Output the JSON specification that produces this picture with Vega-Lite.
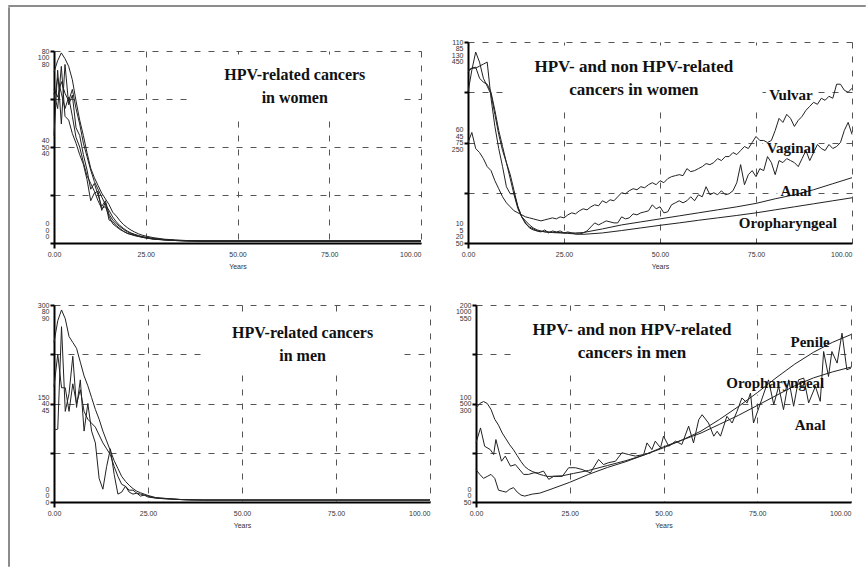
{
  "$schema": "https://vega.github.io/schema/vega-lite/v6.json",
  "background": "white",
  "padding": {"left": 8, "top": 5, "right": 0, "bottom": 0},
  "config": {
    "view": {"stroke": null},
    "axis": {
      "domainColor": "#000", "domainWidth": 2,
      "tickColor": "#000", "tickWidth": 2, "tickSize": 4,
      "gridColor": "#555", "gridDash": [6, 8], "gridWidth": 1,
      "labelFont": "Liberation Sans", "labelFontSize": 7, "labelColor": "#333",
      "titleFont": "Liberation Sans", "titleFontSize": 7, "titleFontWeight": "normal", "titleColor": "#333",
      "labelOverlap": false, "labelBound": false, "labelFlush": false
    }
  },
  "datasets": {
    "tl": [
      {"s":"a","year":0,"value":0.89},{"s":"a","year":1,"value":0.95},{"s":"a","year":2,"value":0.99},{"s":"a","year":3,"value":0.96},{"s":"a","year":4,"value":0.92},{"s":"a","year":5,"value":0.85},{"s":"a","year":6,"value":0.74},{"s":"a","year":7,"value":0.64},{"s":"a","year":8,"value":0.56},{"s":"a","year":9,"value":0.47},{"s":"a","year":10,"value":0.39},{"s":"a","year":11,"value":0.34},{"s":"a","year":12,"value":0.30},{"s":"a","year":13,"value":0.26},{"s":"a","year":14,"value":0.23},{"s":"a","year":15,"value":0.20},{"s":"a","year":16,"value":0.16},{"s":"a","year":17,"value":0.14},{"s":"a","year":18,"value":0.115},{"s":"a","year":19,"value":0.095},{"s":"a","year":20,"value":0.08},{"s":"a","year":21,"value":0.067},{"s":"a","year":22,"value":0.057},{"s":"a","year":23,"value":0.048},{"s":"a","year":24,"value":0.041},{"s":"a","year":25,"value":0.036},{"s":"a","year":27,"value":0.028},{"s":"a","year":30,"value":0.02},{"s":"a","year":33,"value":0.016},{"s":"a","year":36,"value":0.013},{"s":"a","year":40,"value":0.011},{"s":"a","year":100,"value":0.011},
      {"s":"b","year":0,"value":0.80},{"s":"b","year":1,"value":0.76},{"s":"b","year":2,"value":0.84},{"s":"b","year":3,"value":0.78},{"s":"b","year":4,"value":0.74},{"s":"b","year":5,"value":0.80},{"s":"b","year":6,"value":0.70},{"s":"b","year":7,"value":0.62},{"s":"b","year":8,"value":0.52},{"s":"b","year":9,"value":0.45},{"s":"b","year":10,"value":0.38},{"s":"b","year":11,"value":0.32},{"s":"b","year":12,"value":0.28},{"s":"b","year":13,"value":0.24},{"s":"b","year":14,"value":0.20},{"s":"b","year":15,"value":0.17},{"s":"b","year":16,"value":0.135},{"s":"b","year":17,"value":0.11},{"s":"b","year":18,"value":0.09},{"s":"b","year":19,"value":0.075},{"s":"b","year":20,"value":0.062},{"s":"b","year":21,"value":0.052},{"s":"b","year":22,"value":0.045},{"s":"b","year":23,"value":0.039},{"s":"b","year":24,"value":0.034},{"s":"b","year":25,"value":0.03},{"s":"b","year":27,"value":0.024},{"s":"b","year":30,"value":0.018},{"s":"b","year":33,"value":0.014},{"s":"b","year":36,"value":0.012},{"s":"b","year":40,"value":0.01},{"s":"b","year":100,"value":0.01},
      {"s":"c","year":0,"value":0.56},{"s":"c","year":1,"value":0.90},{"s":"c","year":2,"value":0.62},{"s":"c","year":3,"value":0.93},{"s":"c","year":4,"value":0.72},{"s":"c","year":5,"value":0.77},{"s":"c","year":6,"value":0.60},{"s":"c","year":7,"value":0.56},{"s":"c","year":8,"value":0.46},{"s":"c","year":9,"value":0.38},{"s":"c","year":10,"value":0.28},{"s":"c","year":11,"value":0.31},{"s":"c","year":12,"value":0.25},{"s":"c","year":13,"value":0.19},{"s":"c","year":14,"value":0.22},{"s":"c","year":15,"value":0.15},{"s":"c","year":16,"value":0.12},{"s":"c","year":17,"value":0.10},{"s":"c","year":18,"value":0.085},{"s":"c","year":19,"value":0.07},{"s":"c","year":20,"value":0.058},{"s":"c","year":21,"value":0.05},{"s":"c","year":22,"value":0.043},{"s":"c","year":23,"value":0.036},{"s":"c","year":24,"value":0.032},{"s":"c","year":25,"value":0.028},{"s":"c","year":27,"value":0.022},{"s":"c","year":30,"value":0.017},{"s":"c","year":33,"value":0.013},{"s":"c","year":36,"value":0.011},{"s":"c","year":40,"value":0.01},{"s":"c","year":100,"value":0.01},
      {"s":"d","year":0,"value":0.78},{"s":"d","year":1,"value":0.70},{"s":"d","year":2,"value":0.92},{"s":"d","year":3,"value":0.66},{"s":"d","year":4,"value":0.64},{"s":"d","year":5,"value":0.57},{"s":"d","year":6,"value":0.52},{"s":"d","year":7,"value":0.46},{"s":"d","year":8,"value":0.41},{"s":"d","year":9,"value":0.33},{"s":"d","year":10,"value":0.22},{"s":"d","year":11,"value":0.26},{"s":"d","year":12,"value":0.27},{"s":"d","year":13,"value":0.17},{"s":"d","year":14,"value":0.21},{"s":"d","year":15,"value":0.12},{"s":"d","year":16,"value":0.11},{"s":"d","year":17,"value":0.09},{"s":"d","year":18,"value":0.075},{"s":"d","year":19,"value":0.06},{"s":"d","year":20,"value":0.05},{"s":"d","year":21,"value":0.045},{"s":"d","year":22,"value":0.04},{"s":"d","year":23,"value":0.035},{"s":"d","year":24,"value":0.03},{"s":"d","year":25,"value":0.027},{"s":"d","year":27,"value":0.021},{"s":"d","year":30,"value":0.016},{"s":"d","year":33,"value":0.013},{"s":"d","year":36,"value":0.011},{"s":"d","year":40,"value":0.01},{"s":"d","year":100,"value":0.01},
      {"s":"e","year":0,"value":0.74},{"s":"e","year":1,"value":0.86},{"s":"e","year":2,"value":0.78},{"s":"e","year":3,"value":0.70},{"s":"e","year":4,"value":0.76},{"s":"e","year":5,"value":0.66},{"s":"e","year":6,"value":0.55},{"s":"e","year":7,"value":0.50},{"s":"e","year":8,"value":0.42},{"s":"e","year":9,"value":0.35},{"s":"e","year":10,"value":0.31},{"s":"e","year":11,"value":0.27},{"s":"e","year":12,"value":0.22},{"s":"e","year":13,"value":0.18},{"s":"e","year":14,"value":0.19},{"s":"e","year":15,"value":0.14},{"s":"e","year":16,"value":0.10},{"s":"e","year":17,"value":0.085},{"s":"e","year":18,"value":0.07},{"s":"e","year":19,"value":0.06},{"s":"e","year":20,"value":0.05},{"s":"e","year":21,"value":0.044},{"s":"e","year":22,"value":0.038},{"s":"e","year":23,"value":0.034},{"s":"e","year":24,"value":0.03},{"s":"e","year":25,"value":0.026},{"s":"e","year":27,"value":0.02},{"s":"e","year":30,"value":0.016},{"s":"e","year":33,"value":0.013},{"s":"e","year":36,"value":0.011},{"s":"e","year":40,"value":0.01},{"s":"e","year":100,"value":0.01}
    ],
    "tlNote": [{"year": 65.6, "value": 0.815, "t": "HPV-related cancers\nin women"}],
    "tr": [
      {"s":"vulvar","year":0,"value":0.50},{"s":"vulvar","year":1,"value":0.55},{"s":"vulvar","year":2,"value":0.47},{"s":"vulvar","year":3,"value":0.45},{"s":"vulvar","year":4,"value":0.42},{"s":"vulvar","year":5,"value":0.38},{"s":"vulvar","year":6,"value":0.36},{"s":"vulvar","year":7,"value":0.31},{"s":"vulvar","year":8,"value":0.27},{"s":"vulvar","year":9,"value":0.23},{"s":"vulvar","year":10,"value":0.20},{"s":"vulvar","year":11,"value":0.18},{"s":"vulvar","year":12,"value":0.16},{"s":"vulvar","year":13,"value":0.15},{"s":"vulvar","year":14,"value":0.14},{"s":"vulvar","year":15,"value":0.13},{"s":"vulvar","year":16,"value":0.125},{"s":"vulvar","year":17,"value":0.12},{"s":"vulvar","year":18,"value":0.115},{"s":"vulvar","year":19,"value":0.11},{"s":"vulvar","year":20,"value":0.115},{"s":"vulvar","year":21,"value":0.12},{"s":"vulvar","year":22,"value":0.125},{"s":"vulvar","year":23,"value":0.12},{"s":"vulvar","year":24,"value":0.13},{"s":"vulvar","year":25,"value":0.125},{"s":"vulvar","year":26,"value":0.14},{"s":"vulvar","year":27,"value":0.15},{"s":"vulvar","year":28,"value":0.145},{"s":"vulvar","year":29,"value":0.16},{"s":"vulvar","year":30,"value":0.17},{"s":"vulvar","year":31,"value":0.165},{"s":"vulvar","year":32,"value":0.18},{"s":"vulvar","year":33,"value":0.19},{"s":"vulvar","year":34,"value":0.185},{"s":"vulvar","year":35,"value":0.21},{"s":"vulvar","year":36,"value":0.20},{"s":"vulvar","year":37,"value":0.215},{"s":"vulvar","year":38,"value":0.21},{"s":"vulvar","year":39,"value":0.23},{"s":"vulvar","year":40,"value":0.25},{"s":"vulvar","year":41,"value":0.245},{"s":"vulvar","year":42,"value":0.26},{"s":"vulvar","year":43,"value":0.27},{"s":"vulvar","year":44,"value":0.265},{"s":"vulvar","year":45,"value":0.28},{"s":"vulvar","year":46,"value":0.275},{"s":"vulvar","year":47,"value":0.29},{"s":"vulvar","year":48,"value":0.30},{"s":"vulvar","year":49,"value":0.29},{"s":"vulvar","year":50,"value":0.31},{"s":"vulvar","year":51,"value":0.30},{"s":"vulvar","year":52,"value":0.32},{"s":"vulvar","year":53,"value":0.33},{"s":"vulvar","year":54,"value":0.335},{"s":"vulvar","year":55,"value":0.34},{"s":"vulvar","year":56,"value":0.335},{"s":"vulvar","year":57,"value":0.37},{"s":"vulvar","year":58,"value":0.355},{"s":"vulvar","year":59,"value":0.36},{"s":"vulvar","year":60,"value":0.37},{"s":"vulvar","year":61,"value":0.38},{"s":"vulvar","year":62,"value":0.395},{"s":"vulvar","year":63,"value":0.39},{"s":"vulvar","year":64,"value":0.40},{"s":"vulvar","year":65,"value":0.42},{"s":"vulvar","year":66,"value":0.41},{"s":"vulvar","year":67,"value":0.43},{"s":"vulvar","year":68,"value":0.43},{"s":"vulvar","year":69,"value":0.45},{"s":"vulvar","year":70,"value":0.44},{"s":"vulvar","year":71,"value":0.46},{"s":"vulvar","year":72,"value":0.48},{"s":"vulvar","year":73,"value":0.47},{"s":"vulvar","year":74,"value":0.50},{"s":"vulvar","year":75,"value":0.53},{"s":"vulvar","year":76,"value":0.51},{"s":"vulvar","year":77,"value":0.51},{"s":"vulvar","year":78,"value":0.50},{"s":"vulvar","year":79,"value":0.51},{"s":"vulvar","year":80,"value":0.56},{"s":"vulvar","year":81,"value":0.62},{"s":"vulvar","year":82,"value":0.60},{"s":"vulvar","year":83,"value":0.64},{"s":"vulvar","year":84,"value":0.62},{"s":"vulvar","year":85,"value":0.58},{"s":"vulvar","year":86,"value":0.61},{"s":"vulvar","year":87,"value":0.63},{"s":"vulvar","year":88,"value":0.66},{"s":"vulvar","year":89,"value":0.68},{"s":"vulvar","year":90,"value":0.70},{"s":"vulvar","year":91,"value":0.69},{"s":"vulvar","year":92,"value":0.72},{"s":"vulvar","year":93,"value":0.71},{"s":"vulvar","year":94,"value":0.73},{"s":"vulvar","year":95,"value":0.72},{"s":"vulvar","year":96,"value":0.79},{"s":"vulvar","year":97,"value":0.79},{"s":"vulvar","year":98,"value":0.76},{"s":"vulvar","year":99,"value":0.75},{"s":"vulvar","year":100,"value":0.77},
      {"s":"vaginal","year":0,"value":0.75},{"s":"vaginal","year":1,"value":0.86},{"s":"vaginal","year":2,"value":0.95},{"s":"vaginal","year":3,"value":0.90},{"s":"vaginal","year":4,"value":0.82},{"s":"vaginal","year":5,"value":0.78},{"s":"vaginal","year":6,"value":0.74},{"s":"vaginal","year":7,"value":0.64},{"s":"vaginal","year":8,"value":0.54},{"s":"vaginal","year":9,"value":0.46},{"s":"vaginal","year":10,"value":0.40},{"s":"vaginal","year":11,"value":0.34},{"s":"vaginal","year":12,"value":0.26},{"s":"vaginal","year":13,"value":0.18},{"s":"vaginal","year":14,"value":0.13},{"s":"vaginal","year":15,"value":0.095},{"s":"vaginal","year":16,"value":0.08},{"s":"vaginal","year":17,"value":0.07},{"s":"vaginal","year":18,"value":0.06},{"s":"vaginal","year":19,"value":0.055},{"s":"vaginal","year":20,"value":0.065},{"s":"vaginal","year":21,"value":0.05},{"s":"vaginal","year":22,"value":0.06},{"s":"vaginal","year":23,"value":0.055},{"s":"vaginal","year":24,"value":0.06},{"s":"vaginal","year":25,"value":0.05},{"s":"vaginal","year":26,"value":0.055},{"s":"vaginal","year":27,"value":0.05},{"s":"vaginal","year":28,"value":0.045},{"s":"vaginal","year":29,"value":0.045},{"s":"vaginal","year":30,"value":0.05},{"s":"vaginal","year":31,"value":0.06},{"s":"vaginal","year":32,"value":0.08},{"s":"vaginal","year":33,"value":0.10},{"s":"vaginal","year":34,"value":0.09},{"s":"vaginal","year":35,"value":0.10},{"s":"vaginal","year":36,"value":0.11},{"s":"vaginal","year":37,"value":0.105},{"s":"vaginal","year":38,"value":0.10},{"s":"vaginal","year":39,"value":0.10},{"s":"vaginal","year":40,"value":0.13},{"s":"vaginal","year":41,"value":0.12},{"s":"vaginal","year":42,"value":0.125},{"s":"vaginal","year":43,"value":0.145},{"s":"vaginal","year":44,"value":0.14},{"s":"vaginal","year":45,"value":0.15},{"s":"vaginal","year":46,"value":0.155},{"s":"vaginal","year":47,"value":0.16},{"s":"vaginal","year":48,"value":0.19},{"s":"vaginal","year":49,"value":0.17},{"s":"vaginal","year":50,"value":0.18},{"s":"vaginal","year":51,"value":0.15},{"s":"vaginal","year":52,"value":0.155},{"s":"vaginal","year":53,"value":0.19},{"s":"vaginal","year":54,"value":0.20},{"s":"vaginal","year":55,"value":0.21},{"s":"vaginal","year":56,"value":0.20},{"s":"vaginal","year":57,"value":0.21},{"s":"vaginal","year":58,"value":0.23},{"s":"vaginal","year":59,"value":0.21},{"s":"vaginal","year":60,"value":0.24},{"s":"vaginal","year":61,"value":0.23},{"s":"vaginal","year":62,"value":0.28},{"s":"vaginal","year":63,"value":0.24},{"s":"vaginal","year":64,"value":0.25},{"s":"vaginal","year":65,"value":0.24},{"s":"vaginal","year":66,"value":0.26},{"s":"vaginal","year":67,"value":0.24},{"s":"vaginal","year":68,"value":0.245},{"s":"vaginal","year":69,"value":0.26},{"s":"vaginal","year":70,"value":0.30},{"s":"vaginal","year":71,"value":0.39},{"s":"vaginal","year":72,"value":0.29},{"s":"vaginal","year":73,"value":0.34},{"s":"vaginal","year":74,"value":0.36},{"s":"vaginal","year":75,"value":0.33},{"s":"vaginal","year":76,"value":0.37},{"s":"vaginal","year":77,"value":0.36},{"s":"vaginal","year":78,"value":0.43},{"s":"vaginal","year":79,"value":0.40},{"s":"vaginal","year":80,"value":0.34},{"s":"vaginal","year":81,"value":0.41},{"s":"vaginal","year":82,"value":0.40},{"s":"vaginal","year":83,"value":0.42},{"s":"vaginal","year":84,"value":0.41},{"s":"vaginal","year":85,"value":0.40},{"s":"vaginal","year":86,"value":0.38},{"s":"vaginal","year":87,"value":0.42},{"s":"vaginal","year":88,"value":0.46},{"s":"vaginal","year":89,"value":0.41},{"s":"vaginal","year":90,"value":0.45},{"s":"vaginal","year":91,"value":0.49},{"s":"vaginal","year":92,"value":0.47},{"s":"vaginal","year":93,"value":0.46},{"s":"vaginal","year":94,"value":0.49},{"s":"vaginal","year":95,"value":0.47},{"s":"vaginal","year":96,"value":0.48},{"s":"vaginal","year":97,"value":0.50},{"s":"vaginal","year":98,"value":0.56},{"s":"vaginal","year":99,"value":0.60},{"s":"vaginal","year":100,"value":0.54},
      {"s":"anal","year":0,"value":0.86},{"s":"anal","year":1,"value":0.87},{"s":"anal","year":2,"value":0.87},{"s":"anal","year":3,"value":0.88},{"s":"anal","year":4,"value":0.89},{"s":"anal","year":5,"value":0.90},{"s":"anal","year":6,"value":0.72},{"s":"anal","year":7,"value":0.58},{"s":"anal","year":8,"value":0.47},{"s":"anal","year":9,"value":0.38},{"s":"anal","year":10,"value":0.28},{"s":"anal","year":11,"value":0.245},{"s":"anal","year":12,"value":0.245},{"s":"anal","year":13,"value":0.18},{"s":"anal","year":14,"value":0.13},{"s":"anal","year":15,"value":0.10},{"s":"anal","year":16,"value":0.075},{"s":"anal","year":17,"value":0.065},{"s":"anal","year":18,"value":0.06},{"s":"anal","year":19,"value":0.058},{"s":"anal","year":20,"value":0.056},{"s":"anal","year":22,"value":0.054},{"s":"anal","year":24,"value":0.052},{"s":"anal","year":26,"value":0.05},{"s":"anal","year":28,"value":0.05},{"s":"anal","year":30,"value":0.052},{"s":"anal","year":35,"value":0.07},{"s":"anal","year":40,"value":0.09},{"s":"anal","year":45,"value":0.105},{"s":"anal","year":50,"value":0.12},{"s":"anal","year":55,"value":0.135},{"s":"anal","year":60,"value":0.15},{"s":"anal","year":65,"value":0.165},{"s":"anal","year":70,"value":0.18},{"s":"anal","year":75,"value":0.197},{"s":"anal","year":80,"value":0.22},{"s":"anal","year":85,"value":0.24},{"s":"anal","year":90,"value":0.265},{"s":"anal","year":95,"value":0.295},{"s":"anal","year":100,"value":0.325},
      {"s":"oro","year":0,"value":0.85},{"s":"oro","year":1,"value":0.87},{"s":"oro","year":2,"value":0.875},{"s":"oro","year":3,"value":0.82},{"s":"oro","year":4,"value":0.80},{"s":"oro","year":5,"value":0.79},{"s":"oro","year":6,"value":0.75},{"s":"oro","year":7,"value":0.66},{"s":"oro","year":8,"value":0.56},{"s":"oro","year":9,"value":0.48},{"s":"oro","year":10,"value":0.40},{"s":"oro","year":11,"value":0.32},{"s":"oro","year":12,"value":0.24},{"s":"oro","year":13,"value":0.17},{"s":"oro","year":14,"value":0.13},{"s":"oro","year":15,"value":0.11},{"s":"oro","year":16,"value":0.09},{"s":"oro","year":17,"value":0.075},{"s":"oro","year":18,"value":0.065},{"s":"oro","year":19,"value":0.06},{"s":"oro","year":20,"value":0.055},{"s":"oro","year":22,"value":0.052},{"s":"oro","year":24,"value":0.05},{"s":"oro","year":26,"value":0.048},{"s":"oro","year":28,"value":0.045},{"s":"oro","year":30,"value":0.043},{"s":"oro","year":35,"value":0.05},{"s":"oro","year":40,"value":0.062},{"s":"oro","year":45,"value":0.075},{"s":"oro","year":50,"value":0.088},{"s":"oro","year":55,"value":0.10},{"s":"oro","year":60,"value":0.113},{"s":"oro","year":65,"value":0.125},{"s":"oro","year":70,"value":0.137},{"s":"oro","year":75,"value":0.15},{"s":"oro","year":80,"value":0.165},{"s":"oro","year":85,"value":0.18},{"s":"oro","year":90,"value":0.195},{"s":"oro","year":95,"value":0.21},{"s":"oro","year":100,"value":0.225}
    ],
    "trNote": [{"year": 43.2, "value": 0.819, "t": "HPV- and non HPV-related\ncancers in women"}],
    "trLab": [
      {"year": 84.1, "value": 0.736, "t": "Vulvar"},
      {"year": 84.1, "value": 0.473, "t": "Vaginal"},
      {"year": 85.4, "value": 0.26, "t": "Anal"},
      {"year": 83.3, "value": 0.101, "t": "Oropharyngeal"}
    ],
    "bl": [
      {"s":"a","year":0,"value":0.81},{"s":"a","year":1,"value":0.92},{"s":"a","year":2,"value":0.975},{"s":"a","year":3,"value":0.93},{"s":"a","year":4,"value":0.84},{"s":"a","year":5,"value":0.81},{"s":"a","year":6,"value":0.78},{"s":"a","year":7,"value":0.71},{"s":"a","year":8,"value":0.64},{"s":"a","year":9,"value":0.59},{"s":"a","year":10,"value":0.53},{"s":"a","year":11,"value":0.47},{"s":"a","year":12,"value":0.42},{"s":"a","year":13,"value":0.36},{"s":"a","year":14,"value":0.31},{"s":"a","year":15,"value":0.26},{"s":"a","year":16,"value":0.21},{"s":"a","year":17,"value":0.17},{"s":"a","year":18,"value":0.13},{"s":"a","year":19,"value":0.105},{"s":"a","year":20,"value":0.085},{"s":"a","year":21,"value":0.068},{"s":"a","year":22,"value":0.055},{"s":"a","year":23,"value":0.047},{"s":"a","year":24,"value":0.04},{"s":"a","year":25,"value":0.033},{"s":"a","year":27,"value":0.023},{"s":"a","year":30,"value":0.017},{"s":"a","year":34,"value":0.012},{"s":"a","year":40,"value":0.01},{"s":"a","year":100,"value":0.01},
      {"s":"b","year":0,"value":0.585},{"s":"b","year":1,"value":0.75},{"s":"b","year":2,"value":0.58},{"s":"b","year":3,"value":0.58},{"s":"b","year":4,"value":0.46},{"s":"b","year":5,"value":0.60},{"s":"b","year":6,"value":0.50},{"s":"b","year":7,"value":0.57},{"s":"b","year":8,"value":0.46},{"s":"b","year":9,"value":0.42},{"s":"b","year":10,"value":0.40},{"s":"b","year":11,"value":0.38},{"s":"b","year":12,"value":0.34},{"s":"b","year":13,"value":0.30},{"s":"b","year":14,"value":0.27},{"s":"b","year":15,"value":0.24},{"s":"b","year":16,"value":0.18},{"s":"b","year":17,"value":0.13},{"s":"b","year":18,"value":0.09},{"s":"b","year":19,"value":0.08},{"s":"b","year":20,"value":0.06},{"s":"b","year":21,"value":0.06},{"s":"b","year":22,"value":0.045},{"s":"b","year":23,"value":0.04},{"s":"b","year":24,"value":0.035},{"s":"b","year":25,"value":0.025},{"s":"b","year":27,"value":0.02},{"s":"b","year":30,"value":0.015},{"s":"b","year":35,"value":0.012},{"s":"b","year":40,"value":0.01},{"s":"b","year":100,"value":0.01},
      {"s":"c","year":0,"value":0.365},{"s":"c","year":1,"value":0.37},{"s":"c","year":2,"value":0.89},{"s":"c","year":3,"value":0.46},{"s":"c","year":4,"value":0.55},{"s":"c","year":5,"value":0.74},{"s":"c","year":6,"value":0.48},{"s":"c","year":7,"value":0.62},{"s":"c","year":8,"value":0.36},{"s":"c","year":9,"value":0.50},{"s":"c","year":10,"value":0.36},{"s":"c","year":11,"value":0.30},{"s":"c","year":12,"value":0.12},{"s":"c","year":13,"value":0.065},{"s":"c","year":14,"value":0.18},{"s":"c","year":15,"value":0.27},{"s":"c","year":16,"value":0.14},{"s":"c","year":17,"value":0.04},{"s":"c","year":18,"value":0.05},{"s":"c","year":19,"value":0.08},{"s":"c","year":20,"value":0.05},{"s":"c","year":21,"value":0.04},{"s":"c","year":22,"value":0.045},{"s":"c","year":23,"value":0.03},{"s":"c","year":24,"value":0.035},{"s":"c","year":25,"value":0.03},{"s":"c","year":27,"value":0.02},{"s":"c","year":30,"value":0.018},{"s":"c","year":34,"value":0.012},{"s":"c","year":36,"value":0.01},{"s":"c","year":100,"value":0.01}
    ],
    "blNote": [{"year": 66.1, "value": 0.797, "t": "HPV-related cancers\nin men"}],
    "br": [
      {"s":"penile","year":0,"value":0.477},{"s":"penile","year":1,"value":0.50},{"s":"penile","year":2,"value":0.51},{"s":"penile","year":3,"value":0.50},{"s":"penile","year":4,"value":0.47},{"s":"penile","year":5,"value":0.42},{"s":"penile","year":6,"value":0.39},{"s":"penile","year":7,"value":0.35},{"s":"penile","year":8,"value":0.32},{"s":"penile","year":9,"value":0.29},{"s":"penile","year":10,"value":0.265},{"s":"penile","year":11,"value":0.235},{"s":"penile","year":12,"value":0.205},{"s":"penile","year":13,"value":0.18},{"s":"penile","year":14,"value":0.165},{"s":"penile","year":15,"value":0.155},{"s":"penile","year":16,"value":0.148},{"s":"penile","year":17,"value":0.14},{"s":"penile","year":18,"value":0.135},{"s":"penile","year":19,"value":0.13},{"s":"penile","year":20,"value":0.13},{"s":"penile","year":23,"value":0.133},{"s":"penile","year":26,"value":0.145},{"s":"penile","year":30,"value":0.16},{"s":"penile","year":35,"value":0.185},{"s":"penile","year":40,"value":0.21},{"s":"penile","year":45,"value":0.24},{"s":"penile","year":50,"value":0.275},{"s":"penile","year":55,"value":0.315},{"s":"penile","year":60,"value":0.36},{"s":"penile","year":65,"value":0.42},{"s":"penile","year":70,"value":0.485},{"s":"penile","year":75,"value":0.555},{"s":"penile","year":80,"value":0.63},{"s":"penile","year":85,"value":0.70},{"s":"penile","year":90,"value":0.76},{"s":"penile","year":95,"value":0.81},{"s":"penile","year":100,"value":0.85},
      {"s":"anal","year":0,"value":0.165},{"s":"anal","year":1,"value":0.14},{"s":"anal","year":2,"value":0.12},{"s":"anal","year":3,"value":0.13},{"s":"anal","year":4,"value":0.14},{"s":"anal","year":5,"value":0.12},{"s":"anal","year":6,"value":0.06},{"s":"anal","year":7,"value":0.055},{"s":"anal","year":8,"value":0.05},{"s":"anal","year":9,"value":0.065},{"s":"anal","year":10,"value":0.073},{"s":"anal","year":11,"value":0.05},{"s":"anal","year":12,"value":0.035},{"s":"anal","year":13,"value":0.03},{"s":"anal","year":14,"value":0.035},{"s":"anal","year":15,"value":0.04},{"s":"anal","year":17,"value":0.045},{"s":"anal","year":20,"value":0.065},{"s":"anal","year":25,"value":0.10},{"s":"anal","year":30,"value":0.14},{"s":"anal","year":35,"value":0.175},{"s":"anal","year":40,"value":0.205},{"s":"anal","year":45,"value":0.24},{"s":"anal","year":50,"value":0.28},{"s":"anal","year":55,"value":0.315},{"s":"anal","year":60,"value":0.35},{"s":"anal","year":65,"value":0.395},{"s":"anal","year":70,"value":0.44},{"s":"anal","year":75,"value":0.49},{"s":"anal","year":80,"value":0.54},{"s":"anal","year":85,"value":0.59},{"s":"anal","year":90,"value":0.63},{"s":"anal","year":95,"value":0.66},{"s":"anal","year":100,"value":0.685},
      {"s":"oro","year":0,"value":0.30},{"s":"oro","year":1.2,"value":0.376},{"s":"oro","year":2.3,"value":0.283},{"s":"oro","year":3.8,"value":0.266},{"s":"oro","year":4.7,"value":0.241},{"s":"oro","year":5.3,"value":0.317},{"s":"oro","year":6.8,"value":0.207},{"s":"oro","year":7.8,"value":0.233},{"s":"oro","year":9.2,"value":0.182},{"s":"oro","year":10.5,"value":0.19},{"s":"oro","year":12.7,"value":0.14},{"s":"oro","year":14,"value":0.14},{"s":"oro","year":15.4,"value":0.148},{"s":"oro","year":16.7,"value":0.148},{"s":"oro","year":18,"value":0.157},{"s":"oro","year":19.4,"value":0.115},{"s":"oro","year":20.7,"value":0.13},{"s":"oro","year":23,"value":0.13},{"s":"oro","year":24.7,"value":0.174},{"s":"oro","year":26.5,"value":0.174},{"s":"oro","year":28.3,"value":0.165},{"s":"oro","year":30.5,"value":0.148},{"s":"oro","year":32.7,"value":0.216},{"s":"oro","year":34,"value":0.19},{"s":"oro","year":35.4,"value":0.2},{"s":"oro","year":37.2,"value":0.207},{"s":"oro","year":38.9,"value":0.25},{"s":"oro","year":40.7,"value":0.241},{"s":"oro","year":42.5,"value":0.233},{"s":"oro","year":44.7,"value":0.241},{"s":"oro","year":45.6,"value":0.30},{"s":"oro","year":46.9,"value":0.266},{"s":"oro","year":47.8,"value":0.309},{"s":"oro","year":49.2,"value":0.275},{"s":"oro","year":50,"value":0.334},{"s":"oro","year":51.4,"value":0.283},{"s":"oro","year":53.2,"value":0.309},{"s":"oro","year":54.9,"value":0.292},{"s":"oro","year":56.7,"value":0.385},{"s":"oro","year":58,"value":0.30},{"s":"oro","year":59.4,"value":0.418},{"s":"oro","year":60.3,"value":0.443},{"s":"oro","year":62,"value":0.401},{"s":"oro","year":63.4,"value":0.334},{"s":"oro","year":64.3,"value":0.359},{"s":"oro","year":65.2,"value":0.334},{"s":"oro","year":66.9,"value":0.435},{"s":"oro","year":68.3,"value":0.401},{"s":"oro","year":69.6,"value":0.46},{"s":"oro","year":70.9,"value":0.528},{"s":"oro","year":72.3,"value":0.503},{"s":"oro","year":73.2,"value":0.553},{"s":"oro","year":74,"value":0.401},{"s":"oro","year":75.4,"value":0.477},{"s":"oro","year":78,"value":0.62},{"s":"oro","year":79.4,"value":0.494},{"s":"oro","year":80.7,"value":0.587},{"s":"oro","year":82,"value":0.469},{"s":"oro","year":83.4,"value":0.62},{"s":"oro","year":84.7,"value":0.486},{"s":"oro","year":86,"value":0.62},{"s":"oro","year":87.4,"value":0.629},{"s":"oro","year":88.7,"value":0.503},{"s":"oro","year":90.5,"value":0.587},{"s":"oro","year":91.8,"value":0.511},{"s":"oro","year":92.7,"value":0.764},{"s":"oro","year":94,"value":0.637},{"s":"oro","year":94.9,"value":0.764},{"s":"oro","year":96.3,"value":0.705},{"s":"oro","year":97.6,"value":0.857},{"s":"oro","year":98.9,"value":0.671},{"s":"oro","year":100,"value":0.68}
    ],
    "brNote": [{"year": 41.6, "value": 0.814, "t": "HPV- and non HPV-related\ncancers in men"}],
    "brLab": [
      {"year": 89.1, "value": 0.814, "t": "Penile"},
      {"year": 79.8, "value": 0.603, "t": "Oropharyngeal"},
      {"year": 89.1, "value": 0.39, "t": "Anal"}
    ]
  },
  "spacing": 0,
  "vconcat": [
    {"width": 856, "height": 0.01, "data": {"values": []}, "mark": "point", "view": {"stroke": "#666", "strokeWidth": 1.5}},
    {
      "spacing": 27,
      "hconcat": [
        {"width": 0.01, "height": 558, "data": {"values": []}, "mark": "point", "view": {"stroke": "#666", "strokeWidth": 1.5}},
        {
          "spacing": 29,
          "vconcat": [
            {"width": 10, "height": 0.01, "data": {"values": []}, "mark": "point"},
            {
              "spacing": 32,
              "vconcat": [
                {
                  "spacing": 28,
                  "hconcat": [
                    {
                      "spacing": 4,
                      "vconcat": [
                        {"width": 367, "height": 1, "data": {"values": []}, "mark": "point"},
                        {
                          "width": 367, "height": 192,
                          "layer": [
                            {"data": {"name": "tl"}, "mark": {"type": "line", "color": "#222", "strokeWidth": 1},
                             "encoding": {
                               "x": {"field": "year", "type": "quantitative", "scale": {"domain": [0, 100], "nice": false}, "axis": {"values": [0, 25, 50, 75, 100], "format": ".2f", "title": "Years", "grid": true, "tickSize": 5, "labelPadding": 2, "titlePadding": 5, "tickColor": {"condition": {"test": "datum.value == 0", "value": "#000"}, "value": "transparent"}, "labelAlign": {"condition": {"test": "datum.value == 100", "value": "right"}, "value": "center"}}},
                               "y": {"field": "value", "type": "quantitative", "scale": {"domain": [0, 1], "nice": false}, "axis": {"values": [0, 0.25, 0.5, 0.75, 1], "title": null, "grid": true, "labelPadding": 1, "labelLineHeight": 6.5, "labelBaseline": "middle",
                                 "labelExpr": "datum.value == 1 ? ['80','100','80'] : datum.value == 0.5 ? ['40','50','40'] : datum.value == 0 ? ['0','0','','0'] : ''",
                                 "labelOffset": {"condition": [{"test": "datum.value == 0.5", "value": -6.5}, {"test": "datum.value == 0", "value": -19.5}], "value": 0}}},
                               "detail": {"field": "s"}
                             }},
                            {"data": {"name": "tlNote"}, "mark": {"type": "rect", "width": 206, "height": 64, "align": "center", "baseline": "middle", "color": "white"},
                             "encoding": {"x": {"field": "year", "type": "quantitative"}, "y": {"field": "value", "type": "quantitative"}}},
                            {"data": {"name": "tlNote"}, "mark": {"type": "text", "font": "Liberation Serif", "fontWeight": "bold", "fontSize": 16, "lineHeight": 23, "lineBreak": "\n", "dy": -11.5, "color": "#111"},
                             "encoding": {"x": {"field": "year", "type": "quantitative"}, "y": {"field": "value", "type": "quantitative"}, "text": {"field": "t"}}}
                          ]
                        }
                      ]
                    },
                    {
                      "width": 384, "height": 201,
                      "layer": [
                        {"data": {"name": "trNote"}, "mark": {"type": "rect", "width": 255, "height": 66, "align": "center", "baseline": "middle", "color": "white"},
                         "encoding": {"x": {"field": "year", "type": "quantitative"}, "y": {"field": "value", "type": "quantitative"}}},
                        {"data": {"name": "trLab"}, "mark": {"type": "text", "font": "Liberation Serif", "fontWeight": "bold", "fontSize": 15, "color": "white", "stroke": "white", "strokeWidth": 8, "strokeJoin": "round"},
                         "encoding": {"x": {"field": "year", "type": "quantitative"}, "y": {"field": "value", "type": "quantitative"}, "text": {"field": "t"}}},
                        {"data": {"name": "tr"}, "mark": {"type": "line", "color": "#222", "strokeWidth": 1},
                         "encoding": {
                           "x": {"field": "year", "type": "quantitative", "scale": {"domain": [0, 100], "nice": false}, "axis": {"values": [0, 25, 50, 75, 100], "format": ".2f", "title": "Years", "grid": true, "tickSize": 5, "labelPadding": 2, "titlePadding": 5, "tickColor": {"condition": {"test": "datum.value == 0", "value": "#000"}, "value": "transparent"}, "labelAlign": {"condition": {"test": "datum.value == 100", "value": "right"}, "value": "center"}}},
                           "y": {"field": "value", "type": "quantitative", "scale": {"domain": [0, 1], "nice": false}, "axis": {"values": [0, 0.25, 0.5, 0.75, 1], "title": null, "grid": true, "labelPadding": 1, "labelLineHeight": 6.5, "labelBaseline": "middle",
                             "labelExpr": "datum.value == 1 ? ['110','85','130','450'] : datum.value == 0.5 ? ['60','45','75','250'] : datum.value == 0 ? ['10','5','20','50'] : ''",
                             "labelOffset": {"condition": [{"test": "datum.value == 0.5", "value": -13}, {"test": "datum.value == 0", "value": -19.5}], "value": 0}}},
                           "detail": {"field": "s"}
                         }},
                        {"data": {"name": "trNote"}, "mark": {"type": "text", "font": "Liberation Serif", "fontWeight": "bold", "fontSize": 17, "lineHeight": 23, "lineBreak": "\n", "dy": -11.5, "color": "#111"},
                         "encoding": {"x": {"field": "year", "type": "quantitative"}, "y": {"field": "value", "type": "quantitative"}, "text": {"field": "t"}}},
                        {"data": {"name": "trLab"}, "mark": {"type": "text", "font": "Liberation Serif", "fontWeight": "bold", "fontSize": 15, "color": "#111"},
                         "encoding": {"x": {"field": "year", "type": "quantitative"}, "y": {"field": "value", "type": "quantitative"}, "text": {"field": "t"}}}
                      ]
                    }
                  ]
                },
                {
                  "spacing": 23,
                  "hconcat": [
                    {
                      "width": 376, "height": 197,
                      "layer": [
                        {"data": {"name": "bl"}, "mark": {"type": "line", "color": "#222", "strokeWidth": 1},
                         "encoding": {
                           "x": {"field": "year", "type": "quantitative", "scale": {"domain": [0, 100], "nice": false}, "axis": {"values": [0, 25, 50, 75, 100], "format": ".2f", "title": "Years", "grid": true, "tickSize": 5, "labelPadding": 2, "titlePadding": 5, "tickColor": {"condition": {"test": "datum.value == 0", "value": "#000"}, "value": "transparent"}, "labelAlign": {"condition": {"test": "datum.value == 100", "value": "right"}, "value": "center"}}},
                           "y": {"field": "value", "type": "quantitative", "scale": {"domain": [0, 1], "nice": false}, "axis": {"values": [0, 0.25, 0.5, 0.75, 1], "title": null, "grid": true, "labelPadding": 1, "labelLineHeight": 6.5, "labelBaseline": "middle",
                             "labelExpr": "datum.value == 1 ? ['300','80','90'] : datum.value == 0.5 ? ['150','40','45'] : datum.value == 0 ? ['0','0','0'] : ''",
                             "labelOffset": {"condition": [{"test": "datum.value == 0.5", "value": -6.5}, {"test": "datum.value == 0", "value": -13}], "value": 0}}},
                           "detail": {"field": "s"}
                         }},
                        {"data": {"name": "blNote"}, "mark": {"type": "rect", "width": 190, "height": 60, "align": "center", "baseline": "middle", "color": "white"},
                         "encoding": {"x": {"field": "year", "type": "quantitative"}, "y": {"field": "value", "type": "quantitative"}}},
                        {"data": {"name": "blNote"}, "mark": {"type": "text", "font": "Liberation Serif", "fontWeight": "bold", "fontSize": 16, "lineHeight": 23, "lineBreak": "\n", "dy": -11.5, "color": "#111"},
                         "encoding": {"x": {"field": "year", "type": "quantitative"}, "y": {"field": "value", "type": "quantitative"}, "text": {"field": "t"}}}
                      ]
                    },
                    {
                      "width": 375, "height": 197,
                      "layer": [
                        {"data": {"name": "brNote"}, "mark": {"type": "rect", "width": 240, "height": 62, "align": "center", "baseline": "middle", "color": "white"},
                         "encoding": {"x": {"field": "year", "type": "quantitative"}, "y": {"field": "value", "type": "quantitative"}}},
                        {"data": {"name": "brLab"}, "mark": {"type": "text", "font": "Liberation Serif", "fontWeight": "bold", "fontSize": 15, "color": "white", "stroke": "white", "strokeWidth": 8, "strokeJoin": "round"},
                         "encoding": {"x": {"field": "year", "type": "quantitative"}, "y": {"field": "value", "type": "quantitative"}, "text": {"field": "t"}}},
                        {"data": {"name": "br"}, "mark": {"type": "line", "color": "#222", "strokeWidth": 1},
                         "encoding": {
                           "x": {"field": "year", "type": "quantitative", "scale": {"domain": [0, 100], "nice": false}, "axis": {"values": [0, 25, 50, 75, 100], "format": ".2f", "title": "Years", "grid": true, "tickSize": 5, "labelPadding": 2, "titlePadding": 5, "tickColor": {"condition": {"test": "datum.value == 0", "value": "#000"}, "value": "transparent"}, "labelAlign": {"condition": {"test": "datum.value == 100", "value": "right"}, "value": "center"}}},
                           "y": {"field": "value", "type": "quantitative", "scale": {"domain": [0, 1], "nice": false}, "axis": {"values": [0, 0.25, 0.5, 0.75, 1], "title": null, "grid": true, "labelPadding": 1, "labelLineHeight": 6.5, "labelBaseline": "middle",
                             "labelExpr": "datum.value == 1 ? ['200','1000','550'] : datum.value == 0.5 ? ['100','500','300'] : datum.value == 0 ? ['0','0','50'] : ''",
                             "labelOffset": {"condition": [{"test": "datum.value == 0.5", "value": -6.5}, {"test": "datum.value == 0", "value": -13}], "value": 0}}},
                           "detail": {"field": "s"}
                         }},
                        {"data": {"name": "brNote"}, "mark": {"type": "text", "font": "Liberation Serif", "fontWeight": "bold", "fontSize": 17, "lineHeight": 23, "lineBreak": "\n", "dy": -11.5, "color": "#111"},
                         "encoding": {"x": {"field": "year", "type": "quantitative"}, "y": {"field": "value", "type": "quantitative"}, "text": {"field": "t"}}},
                        {"data": {"name": "brLab"}, "mark": {"type": "text", "font": "Liberation Serif", "fontWeight": "bold", "fontSize": 15, "color": "#111"},
                         "encoding": {"x": {"field": "year", "type": "quantitative"}, "y": {"field": "value", "type": "quantitative"}, "text": {"field": "t"}}}
                      ]
                    }
                  ]
                }
              ]
            }
          ]
        }
      ]
    }
  ]
}
